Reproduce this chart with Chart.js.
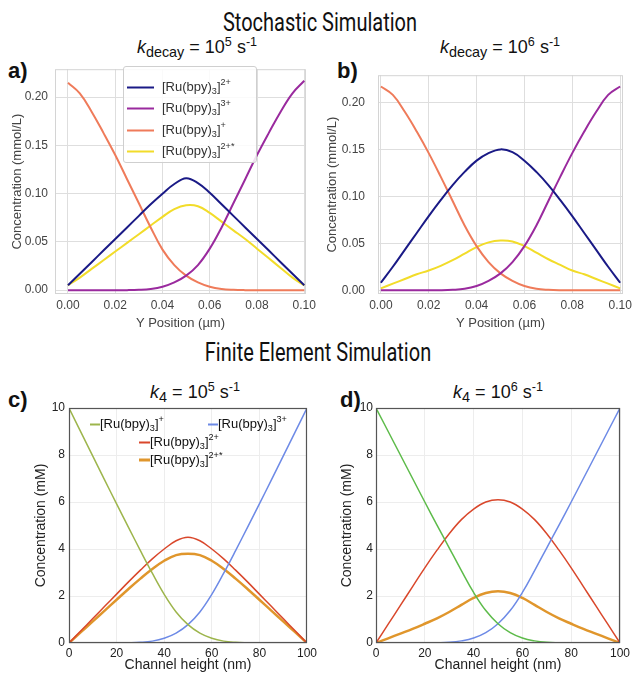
<!DOCTYPE html>
<html>
<head>
<meta charset="utf-8">
<script src="https://cdn.jsdelivr.net/npm/chart.js@4.4.1/dist/chart.umd.min.js"></script>
<style>
  body { margin: 0; width: 637px; height: 675px; position: relative; overflow: hidden; background: #fff;
         font-family: "Liberation Sans", Arial, sans-serif; color: #111; }
  canvas { position: absolute; }
  .lbl { position: absolute; white-space: nowrap; transform: translate(-50%, -50%); }
  .big { font-family: Roboto, sans-serif; font-size: 25px; transform: translate(-50%, -50%) scaleX(0.8); }
  .sub { font-size: 18px; }
  .sub sub { font-size: 80%; }
  .pan { position: absolute; font-weight: bold; font-size: 22px; line-height: 1; }
  .leg { position: absolute; background: rgba(255,255,255,0.85); border: 1px solid #cfcfcf; border-radius: 3px; }
  .row { position: absolute; white-space: nowrap; transform: translateY(-50%); }
  .sw { display: inline-block; vertical-align: middle; }
  sub, sup { font-size: 70%; line-height: 0; }
</style>
</head>
<body>

<div class="lbl big" style="left:320px;top:22px">Stochastic Simulation</div>
<div class="lbl sub" style="left:197px;top:47px"><i>k</i><sub>decay</sub> = 10<sup>5</sup> s<sup>-1</sup></div>
<div class="lbl sub" style="left:500px;top:47px"><i>k</i><sub>decay</sub> = 10<sup>6</sup> s<sup>-1</sup></div>
<div class="pan" style="left:8px;top:60px">a)</div>
<div class="pan" style="left:337px;top:60px">b)</div>

<div class="lbl big" style="left:318px;top:352px">Finite Element Simulation</div>
<div class="lbl sub" style="left:195px;top:392px"><i>k</i><sub>4</sub> = 10<sup>5</sup> s<sup>-1</sup></div>
<div class="lbl sub" style="left:498px;top:392px"><i>k</i><sub>4</sub> = 10<sup>6</sup> s<sup>-1</sup></div>
<div class="pan" style="left:8px;top:389px">c)</div>
<div class="pan" style="left:340px;top:389px">d)</div>

<canvas id="chartA" width="320" height="280" style="left:0;top:55px"></canvas>
<canvas id="chartB" width="317" height="280" style="left:320px;top:55px"></canvas>
<canvas id="chartC" width="320" height="295" style="left:0;top:380px"></canvas>
<canvas id="chartD" width="317" height="295" style="left:320px;top:380px"></canvas>

<div class="leg" style="left:123px;top:66px;width:132px;height:95px;font-size:13px;color:#333">
  <div class="row" style="left:3px;top:19px"><span class="sw" style="width:27px;height:2px;background:#1a1a86"></span><span style="margin-left:8px">[Ru(bpy)<sub>3</sub>]<sup>2+</sup></span></div>
  <div class="row" style="left:3px;top:40px"><span class="sw" style="width:27px;height:2px;background:#9a2a9e"></span><span style="margin-left:8px">[Ru(bpy)<sub>3</sub>]<sup>3+</sup></span></div>
  <div class="row" style="left:3px;top:62px"><span class="sw" style="width:27px;height:2px;background:#ef7b5a"></span><span style="margin-left:8px">[Ru(bpy)<sub>3</sub>]<sup>+</sup></span></div>
  <div class="row" style="left:3px;top:83px"><span class="sw" style="width:27px;height:2px;background:#f2dc2a"></span><span style="margin-left:8px">[Ru(bpy)<sub>3</sub>]<sup>2+*</sup></span></div>
</div>

<div style="position:absolute;left:0;top:0;font-size:13px;color:#111">
  <div class="row" style="left:90px;top:423px"><span class="sw" style="width:10px;height:2px;background:#9db54c"></span>[Ru(bpy)<sub>3</sub>]<sup>+</sup></div>
  <div class="row" style="left:208px;top:423px"><span class="sw" style="width:10px;height:2px;background:#6d8ae6"></span>[Ru(bpy)<sub>3</sub>]<sup>3+</sup></div>
  <div class="row" style="left:139px;top:441px"><span class="sw" style="width:11px;height:2px;background:#d9472b"></span>[Ru(bpy)<sub>3</sub>]<sup>2+</sup></div>
  <div class="row" style="left:139px;top:459px"><span class="sw" style="width:11px;height:3px;background:#e0962c"></span>[Ru(bpy)<sub>3</sub>]<sup>2+*</sup></div>
</div>

<script>
// stochastic simulation: position across the channel (µm)
const yPos = [0, 0.005, 0.01, 0.015, 0.02, 0.025, 0.03, 0.035, 0.04, 0.045, 0.05,
              0.055, 0.06, 0.065, 0.07, 0.075, 0.08, 0.085, 0.09, 0.095, 0.1];

// k_decay = 1e5
const ru2A  = [0.005, 0.017, 0.029, 0.041, 0.053, 0.065, 0.077, 0.089, 0.100, 0.110, 0.116,
               0.111, 0.101, 0.089, 0.077, 0.065, 0.053, 0.041, 0.029, 0.017, 0.005];
const ru3A  = [0, 0, 0, 0, 0, 0, 0.0003, 0.0012, 0.0035, 0.008, 0.015,
               0.026, 0.043, 0.065, 0.09, 0.115, 0.14, 0.163, 0.185, 0.204, 0.217];
const ru1A  = [0.215, 0.204, 0.185, 0.163, 0.14, 0.115, 0.09, 0.065, 0.042, 0.026, 0.015,
               0.008, 0.0035, 0.0012, 0.0003, 0, 0, 0, 0, 0, 0];
const ru2sA = [0.005, 0.013, 0.022, 0.031, 0.040, 0.049, 0.058, 0.067, 0.076, 0.084, 0.088,
               0.087, 0.080, 0.071, 0.062, 0.053, 0.043, 0.033, 0.023, 0.013, 0.005];

// k_decay = 1e6
const ru2B  = [0.008, 0.025, 0.043, 0.061, 0.079, 0.096, 0.112, 0.126, 0.138, 0.146, 0.150,
               0.147, 0.138, 0.126, 0.112, 0.096, 0.079, 0.061, 0.043, 0.025, 0.008];
const ru3B  = [0, 0, 0, 0, 0, 0, 0.0004, 0.0015, 0.0045, 0.01, 0.018,
               0.03, 0.047, 0.069, 0.095, 0.121, 0.146, 0.169, 0.19, 0.208, 0.217];
const ru1B  = [0.217, 0.208, 0.19, 0.169, 0.146, 0.121, 0.095, 0.069, 0.047, 0.03, 0.018,
               0.01, 0.0045, 0.0015, 0.0004, 0, 0, 0, 0, 0, 0];
const ru2sB = [0.002, 0.007, 0.012, 0.017, 0.021, 0.026, 0.032, 0.039, 0.046, 0.051, 0.053,
               0.052, 0.047, 0.040, 0.033, 0.027, 0.021, 0.017, 0.012, 0.007, 0.002];

// finite element simulation: channel height (nm)
const chHeight = [0, 5, 10, 15, 20, 25, 30, 35, 40, 45, 50, 55, 60, 65, 70, 75, 80, 85, 90, 95, 100];

// k4 = 1e5
const ru1C  = [10, 8.97, 7.95, 6.93, 5.92, 4.92, 3.93, 2.97, 2.07, 1.32, 0.78,
               0.42, 0.2, 0.08, 0.03, 0.01, 0, 0, 0, 0, 0];
const ru3C  = [0, 0, 0, 0, 0, 0.01, 0.03, 0.08, 0.2, 0.42, 0.78,
               1.32, 2.07, 2.97, 3.93, 4.92, 5.92, 6.93, 7.95, 8.97, 10];
const ru2C  = [0, 0.52, 1.04, 1.56, 2.08, 2.6, 3.1, 3.58, 4.0, 4.35, 4.5,
               4.35, 4.0, 3.58, 3.1, 2.6, 2.08, 1.56, 1.04, 0.52, 0];
const ru2sC = [0, 0.46, 0.92, 1.38, 1.84, 2.3, 2.74, 3.15, 3.5, 3.74, 3.8,
               3.74, 3.5, 3.15, 2.74, 2.3, 1.84, 1.38, 0.92, 0.46, 0];

// k4 = 1e6
const ru1D  = [10, 9.0, 8.0, 7.0, 6.0, 5.02, 4.05, 3.08, 2.15, 1.38, 0.82,
               0.44, 0.21, 0.09, 0.03, 0.01, 0, 0, 0, 0, 0];
const ru3D  = [0, 0, 0, 0, 0, 0.01, 0.03, 0.09, 0.21, 0.44, 0.82,
               1.38, 2.15, 3.08, 4.05, 5.02, 6.0, 7.0, 8.0, 9.0, 10];
const ru2D  = [0, 0.8, 1.6, 2.4, 3.2, 3.95, 4.65, 5.25, 5.7, 6.0, 6.1,
               6.0, 5.7, 5.25, 4.65, 3.95, 3.2, 2.4, 1.6, 0.8, 0];
const ru2sD = [0, 0.2, 0.4, 0.6, 0.82, 1.05, 1.32, 1.62, 1.92, 2.13, 2.2,
               2.13, 1.92, 1.62, 1.32, 1.05, 0.82, 0.6, 0.4, 0.2, 0];

const xTicksS = [0, 0.02, 0.04, 0.06, 0.08, 0.1];
const yTicksS = [0, 0.05, 0.1, 0.15, 0.2];
const xTicksF = [0, 20, 40, 60, 80, 100];
const yTicksF = [0, 2, 4, 6, 8, 10];

// box around the plot area
const frame = {
  id: 'frame',
  beforeDatasetsDraw(chart, args, opts) { if (!opts.above) drawFrame(chart, opts); },
  afterDatasetsDraw(chart, args, opts) { if (opts.above) drawFrame(chart, opts); }
};
function drawFrame(chart, opts) {
  const { ctx, chartArea: a } = chart;
  ctx.save();
  ctx.strokeStyle = opts.color;
  ctx.lineWidth = opts.width;
  ctx.strokeRect(a.left + 0.5, a.top + 0.5, a.width - 1, a.height - 1);
  ctx.restore();
}

const fixTicks = list => s => { s.ticks = list.map(v => ({ value: v })); };

function lineSet(xs, ys, color, width) {
  return {
    data: ys.map((v, i) => ({ x: xs[i], y: v })),
    borderColor: color,
    borderWidth: width,
    pointRadius: 0,
    fill: false,
    tension: 0.4
  };
}

function makeChart(id, datasets, s) {
  return new Chart(document.getElementById(id), {
    type: 'line',
    data: { datasets: datasets },
    plugins: [frame],
    options: {
      responsive: false,
      animation: false,
      events: [],
      layout: { padding: { top: s.padTop, right: s.padRight, left: 0, bottom: 0 } },
      plugins: {
        legend: { display: false },
        tooltip: { enabled: false },
        frame: { color: s.frameColor, width: s.frameWidth, above: s.frameAbove }
      },
      scales: {
        x: {
          type: 'linear', min: s.xMin, max: s.xMax,
          afterFit: sc => { sc.height = s.xHeight; },
          afterBuildTicks: fixTicks(s.xTicks),
          grid: { color: s.gridColor, drawTicks: false },
          border: { display: false },
          ticks: { padding: s.xTickPad, color: s.tickColor, autoSkip: false, maxRotation: 0,
                   font: { family: 'Liberation Sans', size: s.tickSize }, callback: s.fmt },
          title: { display: true, text: s.xTitle, color: s.tickColor,
                   font: { family: 'Liberation Sans', size: s.titleSize },
                   padding: { top: 0, bottom: s.xTitlePad } }
        },
        y: {
          type: 'linear', min: s.yMin, max: s.yMax,
          afterFit: sc => { sc.width = s.yWidth; },
          afterBuildTicks: fixTicks(s.yTicks),
          grid: { color: s.gridColor, drawTicks: false },
          border: { display: false },
          ticks: { padding: s.yTickPad, color: s.tickColor,
                   font: { family: 'Liberation Sans', size: s.tickSize }, callback: s.fmt },
          title: { display: true, text: s.yTitle, color: s.tickColor,
                   font: { family: 'Liberation Sans', size: s.titleSize },
                   padding: { top: s.yTitlePad, bottom: 0 } }
        }
      }
    }
  });
}

const stochColors = ['#1a1a86', '#9a2a9e', '#ef7b5a', '#f2dc2a'];
const stochBase = {
  padTop: 10, xHeight: 41, yMin: -0.004, yMax: 0.229,
  xTicks: xTicksS, yTicks: yTicksS,
  gridColor: '#dedede', frameColor: '#d4d4d4', frameWidth: 1, frameAbove: false,
  tickColor: '#444', tickSize: 12, titleSize: 13, xTickPad: 4, xTitlePad: 4,
  fmt: v => v.toFixed(2),
  xTitle: 'Y Position (µm)', yTitle: 'Concentration (mmol/L)'
};

makeChart('chartA',
  [ru2A, ru3A, ru1A, ru2sA].map((d, i) => lineSet(yPos, d, stochColors[i], 2)),
  Object.assign({}, stochBase, { xMin: -0.0055, xMax: 0.1007, padRight: 7, yWidth: 55, yTickPad: 7, yTitlePad: 10 }));

makeChart('chartB',
  [ru2B, ru3B, ru1B, ru2sB].map((d, i) => lineSet(yPos, d, stochColors[i], 2)),
  Object.assign({}, stochBase, { xMin: -0.0012, xMax: 0.1012, padRight: 14, yWidth: 58, yTickPad: 13, yTitlePad: 5 }));

const femBase = {
  padTop: 28, xHeight: 32, xMin: 0, xMax: 100, yMin: 0, yMax: 10,
  xTicks: xTicksF, yTicks: yTicksF,
  gridColor: '#ededed', frameColor: '#555', frameWidth: 1.2, frameAbove: true,
  tickColor: '#222', tickSize: 12, titleSize: 14, xTickPad: 3, xTitlePad: 1.6,
  fmt: v => String(v),
  xTitle: 'Channel height (nm)', yTitle: 'Concentration (mM)'
};

makeChart('chartC', [
  lineSet(chHeight, ru1C, '#9db54c', 1.5),
  lineSet(chHeight, ru3C, '#6d8ae6', 1.5),
  lineSet(chHeight, ru2C, '#d9472b', 1.5),
  lineSet(chHeight, ru2sC, '#e0962c', 2.5)
], Object.assign({}, femBase, { padRight: 7, yWidth: 69, yTickPad: 4, yTitlePad: 33 }));

makeChart('chartD', [
  lineSet(chHeight, ru1D, '#5dbb4a', 1.5),
  lineSet(chHeight, ru3D, '#6d8ae6', 1.5),
  lineSet(chHeight, ru2D, '#d9472b', 1.5),
  lineSet(chHeight, ru2sD, '#e0962c', 2.5)
], Object.assign({}, femBase, { padRight: 17, yWidth: 56, yTickPad: 3, yTitlePad: 18.6 }));
</script>
</body>
</html>
